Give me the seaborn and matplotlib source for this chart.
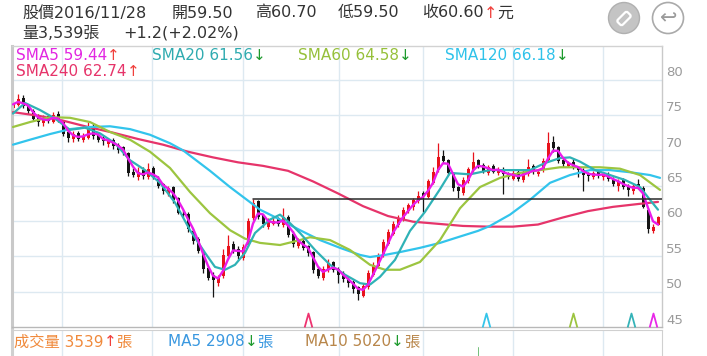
import numpy as np
import pandas as pd
import matplotlib
matplotlib.use("Agg")
import matplotlib.pyplot as plt
import matplotlib.transforms as mtransforms
from matplotlib.patches import Circle, FancyBboxPatch
import seaborn as sns

# ---------------- data ----------------
opens = [76.0, 76.4, 77.4, 76.2, 75.6, 74.8, 73.8, 74.8, 74.0, 75.2,
         74.0, 72.6, 71.6, 72.5, 71.4, 71.8, 73.4, 72.2, 71.8, 70.9,
         71.5, 70.8, 70.4, 69.6, 67.0, 66.2, 67.2, 66.2, 67.5, 66.0,
         65.2, 63.8, 64.8, 63.2, 61.0, 61.0, 58.6, 57.4, 55.6, 53.4,
         52.4, 51.2, 52.2, 55.0, 56.8, 56.0, 54.8, 56.6, 60.4, 62.8,
         60.8, 59.2, 59.6, 60.4, 59.4, 60.6, 58.2, 56.4, 57.2, 56.4,
         55.6, 53.2, 52.0, 53.0, 54.2, 53.2, 52.6, 51.8, 51.4, 50.6,
         49.4, 50.6, 52.4, 53.6, 55.2, 56.8, 58.2, 59.4, 60.2, 61.4,
         62.0, 62.8, 64.0, 63.4, 65.4, 67.2, 69.2, 68.6, 66.6, 64.8,
         64.0, 65.6, 67.2, 68.6, 67.9, 66.8, 67.8, 66.8, 67.4, 66.8,
         66.0, 67.0, 65.8, 66.6, 67.8, 66.6, 67.2, 68.6, 71.2, 70.4,
         68.6, 67.8, 68.4, 67.6, 67.2, 66.8, 66.2, 67.0, 66.2, 66.6,
         66.0, 65.0, 65.8, 65.0, 64.2, 65.2, 64.6, 61.6, 58.6, 59.5]
highs = [77.0, 78.0, 77.8, 76.6, 75.8, 75.2, 75.0, 75.2, 75.4, 75.6,
         74.2, 72.9, 72.8, 72.8, 72.4, 74.0, 73.8, 72.5, 72.2, 71.8,
         71.8, 71.0, 70.6, 69.8, 67.5, 67.6, 67.6, 68.2, 67.8, 66.3,
         65.4, 65.0, 65.0, 63.4, 61.5, 61.3, 58.9, 57.7, 55.9, 53.6,
         52.8, 52.4, 56.0, 58.0, 57.2, 56.4, 56.8, 60.4, 63.1, 63.0,
         61.0, 60.4, 60.6, 60.6, 61.8, 60.8, 58.6, 57.6, 57.6, 56.6,
         55.8, 53.6, 53.6, 54.6, 54.4, 53.5, 52.9, 52.1, 51.6, 50.8,
         51.2, 53.0, 54.2, 55.4, 57.4, 58.8, 60.0, 60.8, 62.0, 62.6,
         63.3, 64.2, 64.2, 66.0, 67.6, 71.0, 70.0, 68.8, 66.9, 65.0,
         66.2, 67.6, 69.8, 68.8, 68.2, 67.9, 68.0, 67.6, 67.6, 67.0,
         67.3, 67.3, 67.2, 68.8, 68.0, 67.4, 68.9, 72.6, 72.0, 70.6,
         68.9, 68.5, 68.8, 67.8, 67.5, 67.0, 67.1, 67.2, 66.8, 66.9,
         66.2, 66.0, 66.1, 65.3, 65.2, 66.0, 64.9, 61.8, 59.6, 60.7]
lows = [75.6, 76.2, 76.0, 75.2, 74.2, 73.4, 73.5, 73.8, 73.8, 74.0,
        72.0, 71.2, 71.2, 71.3, 71.2, 71.6, 71.6, 71.2, 70.8, 70.5,
        70.2, 69.6, 69.4, 66.4, 66.2, 65.8, 66.0, 66.0, 66.0, 64.7,
        63.8, 63.6, 62.6, 61.0, 60.5, 58.5, 56.8, 55.4, 52.6, 51.6,
        49.2, 50.8, 52.0, 54.6, 55.4, 54.6, 54.5, 56.4, 60.2, 60.3,
        59.2, 58.9, 59.4, 59.3, 59.2, 57.7, 56.3, 56.2, 55.9, 55.0,
        52.7, 51.9, 51.7, 52.8, 52.8, 51.2, 51.4, 50.6, 49.8, 48.8,
        49.2, 50.4, 52.2, 53.4, 54.9, 56.6, 58.0, 59.2, 60.0, 61.2,
        61.6, 62.6, 61.3, 63.2, 65.2, 67.0, 68.2, 66.5, 64.2, 63.3,
        63.7, 65.4, 67.0, 67.5, 66.8, 66.5, 66.8, 66.5, 63.8, 66.0,
        65.8, 65.7, 65.5, 66.4, 66.6, 66.4, 67.0, 68.4, 69.8, 68.2,
        67.6, 67.6, 67.3, 66.2, 64.2, 65.6, 66.0, 66.1, 65.8, 65.6,
        65.0, 64.2, 64.5, 63.6, 63.8, 64.5, 61.8, 58.3, 58.3, 59.5]
closes = [76.5, 77.2, 76.3, 75.5, 74.5, 74.0, 74.6, 74.2, 75.0, 74.3,
          72.3, 71.8, 72.3, 71.6, 72.0, 73.2, 72.0, 71.5, 71.3, 71.4,
          70.6, 70.0, 69.8, 66.8, 66.5, 67.0, 66.3, 67.3, 66.2, 65.0,
          64.2, 64.6, 63.0, 61.2, 60.8, 58.8, 57.2, 55.8, 53.2, 52.0,
          51.6, 52.0, 55.2, 56.5, 55.8, 55.0, 56.3, 60.0, 62.6, 60.6,
          59.6, 59.8, 60.0, 59.6, 60.5, 58.0, 56.8, 57.0, 56.2, 55.4,
          53.0, 52.2, 53.2, 54.0, 53.0, 52.4, 51.8, 51.2, 50.4, 49.6,
          50.8, 52.6, 53.8, 55.0, 57.0, 58.4, 59.6, 60.4, 61.6, 62.2,
          63.0, 63.6, 63.6, 65.6, 67.0, 69.0, 68.5, 66.8, 64.6, 64.2,
          65.8, 67.3, 68.3, 67.8, 67.0, 67.6, 67.0, 67.2, 66.6, 66.2,
          66.8, 66.0, 66.8, 67.6, 66.9, 67.0, 68.5, 71.0, 70.3, 68.5,
          68.0, 68.2, 67.5, 67.2, 66.5, 66.4, 66.8, 66.4, 66.5, 66.0,
          65.3, 65.6, 64.8, 64.4, 64.9, 64.8, 62.0, 58.8, 59.1, 60.6]

sma60_idx = [0, 3.4, 7.4, 11.4, 15.4, 19.4, 23.4, 27.4, 31.4, 35.4, 39.4,
             43.4, 46.4, 49.4, 53.4, 57.4, 59.4, 63.4, 67.4, 71.4, 74.4,
             77.4, 81.4, 85.4, 89.4, 93.4, 97.4, 101.4, 105.4, 109.4,
             113.4, 117.4, 121.4, 125.4, 129.4]
sma60 = [73.3, 74.0, 74.7, 74.6, 74.0, 72.6, 71.5, 69.8, 67.5, 64.1, 61.1,
         58.7, 57.5, 56.9, 56.6, 57.3, 57.7, 57.3, 55.9, 53.8, 53.1,
         53.1, 54.2, 57.3, 61.8, 64.8, 66.1, 66.8, 67.2, 67.6,
         67.6, 67.6, 67.4, 66.5, 64.4]
sma120_idx = [0, 3.4, 7.4, 11.4, 15.4, 19.4, 23.4, 27.4, 31.4, 34, 36.8,
              39.4, 43.4, 46.4, 49.4, 53.4, 57.4, 61.4, 65.4, 69.4, 71.4,
              74.4, 77.4, 81.4, 85.4, 89.4, 93, 95.4, 99.4, 103.4, 107.4,
              111.4, 115.4, 119.4, 123.4, 127.4, 129.4]
sma120 = [70.8, 71.5, 72.3, 73.0, 73.3, 73.4, 73.0, 72.2, 71.0, 70.0, 68.5,
          67.1, 64.8, 63.2, 61.6, 60.2, 58.7, 57.3, 56.2, 55.2, 54.9,
          55.2, 55.6, 56.2, 56.9, 57.8, 58.6, 59.3, 60.9, 63.0, 65.4,
          66.5, 67.2, 67.2, 66.9, 66.5, 66.1]
sma240_idx = [0, 5, 10, 15, 20, 25, 30, 35, 40, 45, 50, 55, 60, 65,
              70, 75, 80, 85, 90, 95, 100, 105, 110, 115, 120, 125, 129]
sma240 = [75.4, 74.9, 74.2, 73.3, 72.5, 71.6, 70.8, 69.8, 69.0, 68.3,
          67.8, 67.1, 65.6, 63.9, 62.1, 60.7, 59.9, 59.6, 59.3, 59.2,
          59.2, 59.5, 60.5, 61.4, 62.0, 62.4, 62.7]
sma20_idx = [0, 2.4, 5.4, 8.4, 11.4, 14.4, 17.4, 20.4, 23.4, 26.4, 29.4,
             32.4, 35.4, 38.4, 40.4, 42.4, 44.4, 46.4, 48.4, 51.4, 53.4,
             55.4, 57.4, 60.4, 63.4, 66.4, 69.4, 71.4, 73.4, 76.4, 79.4,
             82.4, 85.4, 87.4, 91.4, 95.4, 99.4, 103.4, 106.4, 109.4,
             111.4, 113.4, 116.4, 119.4, 122.4, 125.4, 127.4, 129]
sma20 = [75.2, 76.7, 75.7, 74.5, 72.9, 73.2, 72.4, 71.0, 68.6, 67.2, 65.4,
         62.6, 58.7, 55.5, 53.5, 53.1, 53.8, 55.5, 58.3, 60.2, 60.9,
         59.7, 58.3, 55.9, 53.8, 52.4, 51.2, 51.0, 52.1, 54.5, 58.6,
         61.3, 64.5, 66.8, 66.6, 67.2, 67.2, 67.2, 68.2, 68.9,
         69.0, 68.4, 67.2, 66.5, 65.8, 64.8, 63.0, 61.6]

resistance_start = 48
resistance_level = 63.1
grid_idx = [9.8, 27.8, 46, 65.2, 82, 100, 118]
y_ticks = [45, 50, 55, 60, 65, 70, 75, 80]
cross_idx = [59, 94.5, 112, 123.5, 128]
cross_cols = ['#ee3370', '#35c5ea', '#9cc440', '#35b3b8', '#e828e8']
cross_level = 46.0
vol_idx = [93]
vol_vals = [9000]

# ---------------- style ----------------
sns.set_style("white")
plt.rcParams['font.family'] = ['DejaVu Sans', 'Noto Sans CJK TC']

W, H = 707, 356
fig = plt.figure(figsize=(W / 100, H / 100), dpi=100)
fig.patch.set_facecolor('white')

L, R, T, B = 12, 662, 46, 327
ax = fig.add_axes([L / W, 1 - B / H, (R - L) / W, (B - T) / H])
ax.set_xlim(-0.2, 129.8)
ax.set_ylim(45, 84.76)
ax.set_xticks([])
ax.set_yticks([])
for v in y_ticks[1:]:
    ax.axhline(v, color='#dde9f1', lw=1, zorder=0)
for g in grid_idx:
    ax.axvline(g, color='#dde9f1', lw=1, zorder=0)
for s, c, w in [('left', '#c9c9c9', 2.2), ('right', '#c9c9c9', 1),
                ('top', '#d2d2d2', 1), ('bottom', '#b8b8b8', 1)]:
    ax.spines[s].set_color(c)
    ax.spines[s].set_linewidth(w)

# candles
idx = np.arange(len(closes))
o = np.array(opens); c = np.array(closes)
h = np.array(highs); lo = np.array(lows)
up = c >= o
cols = np.where(up, '#e8121c', '#151515')
ax.vlines(idx, lo, h, colors=cols, lw=0.9, zorder=2)
bottoms = np.minimum(o, c)
heights = np.maximum(np.abs(c - o), 0.08)
ax.bar(idx, heights, bottom=bottoms, width=0.6, color=cols, linewidth=0, zorder=2)

# moving averages
sma5 = pd.Series(closes).rolling(3, min_periods=1).mean()
sns.lineplot(x=sma240_idx, y=sma240, color='#e6346a', lw=1.6, ax=ax, zorder=3)
sns.lineplot(x=sma120_idx, y=sma120, color='#32c4ec', lw=1.6, ax=ax, zorder=3)
sns.lineplot(x=sma60_idx, y=sma60, color='#9cc540', lw=1.6, ax=ax, zorder=3)
sns.lineplot(x=sma20_idx, y=sma20, color='#2fb2b6', lw=1.6, ax=ax, zorder=3)
sns.lineplot(x=idx, y=sma5, color='#ea1cea', lw=1.7, ax=ax, zorder=4)
ax.plot([resistance_start, 129.8], [resistance_level, resistance_level],
        color='#2a2a2a', lw=1.1, zorder=5)

# crossing markers
chev = [(-0.55, -1), (0, 1), (0.55, -1)]
for xi, col in zip(cross_idx, cross_cols):
    ax.plot([xi], [cross_level], marker=chev, markersize=10,
            markerfacecolor='none', markeredgecolor=col, mew=1.3,
            linestyle='none', zorder=6)

# right y labels (drawn above their grid lines)
trans = mtransforms.offset_copy(ax.get_yaxis_transform(), fig=fig, x=4, y=7, units='dots')
for v in y_ticks:
    ax.text(1.0, v, str(v), transform=trans, ha='left', va='center',
            fontsize=9.5, color='#9a9a9a')

# volume pane
vax = fig.add_axes([L / W, 1 - (H + 36) / H, (R - L) / W, (H + 36 - 330) / H])
vax.set_xlim(-0.2, 129.8)
vax.set_ylim(0, 12000)
vax.set_xticks([]); vax.set_yticks([])
for g in grid_idx:
    vax.axvline(g, color='#dde9f1', lw=1, zorder=0)
for s in ['left', 'right', 'top', 'bottom']:
    vax.spines[s].set_color('#d0d0d0')
vax.spines['left'].set_linewidth(2.2)
vax.bar(vol_idx, vol_vals, width=0.5, color='#1f9a2a', zorder=2)

# ---------------- text ----------------
renderer = fig.canvas.get_renderer()


def chain(x, y, parts, size):
    for s, col in parts:
        t = fig.text(x / W, 1 - y / H, s, color=col, fontsize=size,
                     ha='left', va='center')
        x += t.get_window_extent(renderer).width
    return x


dark = '#333333'
RED = '#f0403c'
GRN = '#1c9a2c'
chain(22, 13, [('股價2016/11/28', dark)], 11.5)
chain(172, 13, [('開59.50', dark)], 11.5)
chain(255, 13, [('高60.70', dark)], 11.5)
chain(338, 13, [('低59.50', dark)], 11.5)
chain(422, 13, [('收60.60', dark), ('↑', RED), ('元', dark)], 11.5)
chain(22, 33, [('量3,539張', dark)], 11.5)
chain(123, 33, [('+1.2(+2.02%)', dark)], 11.5)

chain(16, 56, [('SMA5 59.44', '#e226e2'), ('↑', RED)], 11)
chain(152, 56, [('SMA20 61.56', '#2fabb0'), ('↓', GRN)], 11)
chain(298, 56, [('SMA60 64.58', '#96c03a'), ('↓', GRN)], 11)
chain(445, 56, [('SMA120 66.18', '#2ec2ea'), ('↓', GRN)], 11)
chain(16, 71, [('SMA240 62.74', '#e6346a'), ('↑', RED)], 11)

chain(14, 342, [('成交量 3539', '#f08a3c'), ('↑', RED), ('張', '#f08a3c')], 11)
chain(168, 342, [('MA5 2908', '#3a98e0'), ('↓', GRN), ('張', '#3a98e0')], 11)
chain(305, 342, [('MA10 5020', '#b8864a'), ('↓', GRN), ('張', '#b8864a')], 11)

# top-right buttons
bax = fig.add_axes([0, 0, 1, 1], facecolor='none')
bax.set_xlim(0, W); bax.set_ylim(H, 0)
bax.axis('off')
bax.add_patch(Circle((624, 18), 15.5, facecolor='#c4c4c4', edgecolor='#b0b0b0', lw=1))
er = FancyBboxPatch((617, 15), 14, 7, boxstyle='round,pad=0,rounding_size=2',
                    facecolor='#c4c4c4', edgecolor='white', lw=1.6)
er.set_transform(mtransforms.Affine2D().rotate_deg_around(624, 18.5, -45) + bax.transData)
bax.add_patch(er)
bax.add_patch(Circle((668, 18), 15.5, facecolor='white', edgecolor='#aaaaaa', lw=1.2))
bax.text(668, 18, '↩', ha='center', va='center', fontsize=15, color='#9a9a9a',
         family='DejaVu Sans')

fig.savefig('out.png', dpi=100, facecolor='white')
